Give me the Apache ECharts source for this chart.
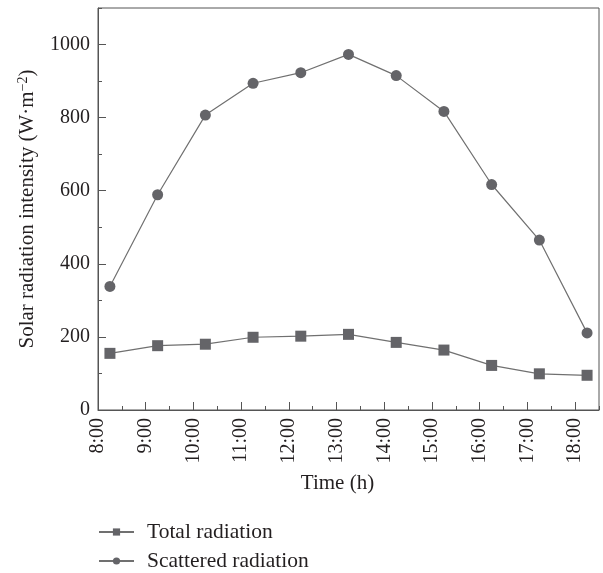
<!DOCTYPE html>
<html>
<head>
<meta charset="utf-8">
<script src="https://cdn.jsdelivr.net/npm/echarts@6/dist/echarts.min.js"></script>
<style>
  html, body { margin: 0; padding: 0; background: #fff; }
  #chart { width: 603px; height: 573px; }
</style>
</head>
<body>
<div id="chart"></div>
<script>
// Measurement times (hours of day, taken at quarter past each hour)
const times = [8.25, 9.25, 10.25, 11.25, 12.25, 13.25, 14.25, 15.25, 16.25, 17.25, 18.25];
// Radiation readings in W·m^-2
const totalRadiation = [155, 176, 180, 199, 202, 207, 185, 164, 122, 99, 95];
const scatteredRadiation = [338, 589, 807, 894, 923, 973, 915, 817, 617, 465, 211];
const seriesNames = ['Total radiation', 'Scattered radiation'];

const FONT = '"Liberation Serif", "DejaVu Serif", serif';
const TICK_FS = 20;
const NAME_FS = 21;
const LEGEND_FS = 21.5;
const AXIS_COLOR = '#555';
const LINE_COLOR = '#707070';
const MARK_COLOR = '#646468';
const TEXT_COLOR = '#231f20';

const pairs = (xs, ys) => xs.map((x, i) => [x, ys[i]]);

const legendItem = (name, top) => ({
  orient: 'vertical',
  left: 93,
  top: top,
  itemWidth: 35,
  itemHeight: 9,
  data: [name],
  textStyle: { fontFamily: FONT, fontSize: LEGEND_FS, color: TEXT_COLOR, padding: [0, 0, 0, 8] }
});

const chart = echarts.init(document.getElementById('chart'), null, { renderer: 'canvas' });

chart.setOption({
  animation: false,
  backgroundColor: '#fff',
  textStyle: { fontFamily: FONT, color: TEXT_COLOR },
  grid: {
    left: 98, top: 8, right: 4, bottom: 163,
    show: true, borderColor: AXIS_COLOR, borderWidth: 1, backgroundColor: 'transparent'
  },
  legend: [legendItem(seriesNames[0], 516), legendItem(seriesNames[1], 545)],
  xAxis: [
    {
      type: 'value',
      min: 8, max: 18.5, interval: 1,
      name: 'Time (h)',
      nameLocation: 'middle',
      nameGap: 63,
      nameTextStyle: { fontFamily: FONT, fontSize: NAME_FS, color: TEXT_COLOR, padding: [0, 22, 0, 0] },
      axisLine: { show: true, lineStyle: { color: AXIS_COLOR, width: 1 } },
      axisTick: { show: true, inside: true, length: 8, lineStyle: { color: AXIS_COLOR } },
      splitLine: { show: false },
      axisLabel: {
        rotate: 90, margin: 8,
        fontFamily: FONT, fontSize: TICK_FS, color: TEXT_COLOR,
        showMaxLabel: false,
        formatter: v => (Number.isInteger(v) ? v + ':00' : '')
      }
    },
    {
      // half-hour minor ticks
      type: 'value',
      position: 'bottom',
      min: 8, max: 18.5, interval: 0.5,
      axisLine: { show: false },
      axisTick: { show: true, inside: true, length: 4, lineStyle: { color: AXIS_COLOR } },
      axisLabel: { show: false },
      splitLine: { show: false }
    }
  ],
  yAxis: [
    {
      type: 'value',
      min: 0, max: 1100, interval: 200,
      name: '{t|Solar radiation intensity (W·m}{s|−2}{t|)}',
      nameLocation: 'middle',
      nameGap: 60,
      nameTextStyle: {
        rich: {
          t: { fontFamily: FONT, fontSize: NAME_FS, color: TEXT_COLOR },
          s: { fontFamily: FONT, fontSize: 14, color: TEXT_COLOR, verticalAlign: 'top', padding: [0, 0, 8, 0] }
        }
      },
      axisLine: { show: true, lineStyle: { color: AXIS_COLOR, width: 1 } },
      axisTick: { show: true, inside: true, length: 8, lineStyle: { color: AXIS_COLOR } },
      splitLine: { show: false },
      axisLabel: {
        margin: 8, fontFamily: FONT, fontSize: TICK_FS, color: TEXT_COLOR,
        showMaxLabel: false,
        formatter: v => (v % 200 === 0 ? String(v) : '')
      }
    },
    {
      // minor ticks every 100
      type: 'value',
      position: 'left',
      min: 0, max: 1100, interval: 100,
      axisLine: { show: false },
      axisTick: { show: true, inside: true, length: 4, lineStyle: { color: AXIS_COLOR } },
      axisLabel: { show: false },
      splitLine: { show: false }
    }
  ],
  series: [
    {
      name: seriesNames[0],
      type: 'line',
      data: pairs(times, totalRadiation),
      symbol: 'rect',
      symbolSize: 11,
      lineStyle: { color: LINE_COLOR, width: 1.2 },
      itemStyle: { color: MARK_COLOR, borderWidth: 0 },
      z: 3
    },
    {
      name: seriesNames[1],
      type: 'line',
      data: pairs(times, scatteredRadiation),
      symbol: 'circle',
      symbolSize: 11,
      lineStyle: { color: LINE_COLOR, width: 1.2 },
      itemStyle: { color: MARK_COLOR, borderWidth: 0 },
      z: 3
    }
  ]
});
</script>
</body>
</html>
